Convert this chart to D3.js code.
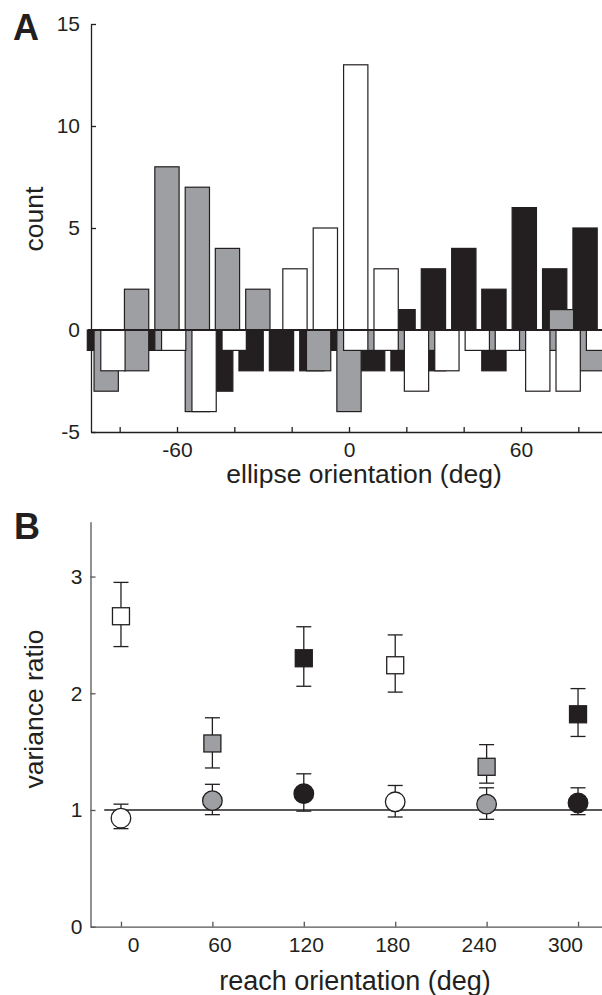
<!DOCTYPE html>
<html>
<head>
<meta charset="utf-8">
<script src="https://cdn.jsdelivr.net/npm/d3@7"></script>
<style>
  body { margin: 0; background: #fff; }
  svg { display: block; font-family: "Liberation Sans", Arial, sans-serif; }
</style>
</head>
<body>
<div id="chart"></div>
<script>
// Panel A: ellipse orientation histogram, 17 bins over 180 deg
const binCenters = [-84.7, -74.1, -63.5, -52.9, -42.4, -31.8, -21.2, -10.6, 0, 10.6, 21.2, 31.8, 42.4, 52.9, 63.5, 74.1, 84.7];
const blackUp   = [0, 0, 0, 0, 0, 0, 0, 0, 0, 0, 1, 3, 4, 2, 6, 3, 5];
const grayUp    = [0, 2, 8, 7, 4, 2, 0, 0, 0, 0, 0, 0, 0, 0, 0, 1, 0];
const whiteUp   = [0, 0, 0, 0, 0, 0, 3, 5, 13, 3, 0, 0, 0, 0, 0, 0, 0];
const blackDown = [-1, 0, -1, 0, -3, -2, -2, -2, -1, -2, -2, -2, 0, -2, 0, 0, 0];
const grayDown  = [-3, -2, -1, -4, 0, 0, 0, -2, -4, -1, -1, -1, 0, -1, -1, -1, -2];
const whiteDown = [-2, 0, -1, -4, -1, 0, 0, 0, -1, -1, -3, -2, -1, -1, -3, -3, -1];
const countTicks = [-5, 0, 5, 10, 15];
const orientTicks = [-80, -60, -40, -20, 0, 20, 40, 60, 80];
const orientLabels = [-60, 0, 60];

// Panel B: variance ratio per reach orientation
const reachOrient = [0, 60, 120, 180, 240, 300];
const reachColor  = ['white', 'gray', 'black', 'white', 'gray', 'black'];
const squareMean  = [2.66, 1.57, 2.30, 2.24, 1.37, 1.82];
const squareHi    = [2.95, 1.79, 2.57, 2.50, 1.56, 2.04];
const squareLo    = [2.40, 1.36, 2.06, 2.01, 1.23, 1.63];
const circleMean  = [0.93, 1.08, 1.14, 1.07, 1.05, 1.06];
const circleHi    = [1.05, 1.22, 1.31, 1.21, 1.19, 1.19];
const circleLo    = [0.84, 0.96, 0.99, 0.94, 0.92, 0.96];
const ratioTicks  = [0, 1, 2, 3];

const fills = { black: '#231f20', gray: '#9d9fa2', white: '#ffffff' };
const ink = '#231f20';

const svg = d3.select('#chart').append('svg')
  .attr('width', 602)
  .attr('height', 995);

// ---------- Panel A ----------
const binWidth = 10.59;
const barWidth = 0.8 * binWidth;
const offsets = { black: -2.35, gray: 0, white: 2.35 };

const xA = d3.scaleLinear().domain([-90, 90]).range([91, 607]);
const yA = d3.scaleLinear().domain([-5, 15]).range([432, 24]);

function barData(series, up, down) {
  const out = [];
  binCenters.forEach((c, i) => {
    if (up[i] !== 0) out.push({ series: series, c: c, v: up[i] });
    if (down[i] !== 0) out.push({ series: series, c: c, v: down[i] });
  });
  return out;
}

const allBars = barData('black', blackUp, blackDown)
  .concat(barData('gray', grayUp, grayDown))
  .concat(barData('white', whiteUp, whiteDown));

svg.append('g')
  .selectAll('rect')
  .data(allBars)
  .enter()
  .append('rect')
    .attr('x', d => xA(d.c + offsets[d.series] - barWidth / 2))
    .attr('width', d => xA(d.c + offsets[d.series] + barWidth / 2) - xA(d.c + offsets[d.series] - barWidth / 2))
    .attr('y', d => yA(Math.max(0, d.v)))
    .attr('height', d => Math.abs(yA(d.v) - yA(0)))
    .style('fill', d => fills[d.series])
    .style('stroke', ink)
    .style('stroke-width', 1.2);

// baseline
svg.append('line')
  .attr('x1', 88).attr('x2', 602)
  .attr('y1', yA(0)).attr('y2', yA(0))
  .style('stroke', ink)
  .style('stroke-width', 2);

const axisA_y = svg.append('g')
  .attr('transform', 'translate(91,0)')
  .call(d3.axisLeft(yA).tickValues(countTicks).tickFormat(d => String(d))
    .tickSize(-5).tickSizeOuter(0).tickPadding(11));

const axisA_x = svg.append('g')
  .attr('transform', 'translate(0,432)')
  .call(d3.axisBottom(xA).tickValues(orientTicks)
    .tickFormat(d => orientLabels.includes(d) ? String(d) : '')
    .tickSize(-5).tickSizeOuter(0).tickPadding(10));

// ---------- Panel B ----------
const xB = d3.scaleLinear().domain([-20, 320]).range([90.5, 608.5]);
const yB = d3.scaleLinear().domain([0, 3.47]).range([926.7, 521.7]);
// tick labels in the original sit on a slightly narrower spacing than the ticks
const xBLabel = d3.scaleLinear().domain([0, 300]).range([133, 565]);

svg.append('line')
  .attr('x1', xB(-11)).attr('x2', 602)
  .attr('y1', yB(1)).attr('y2', yB(1))
  .style('stroke', ink)
  .style('stroke-width', 1.3);

const points = [];
reachOrient.forEach((r, i) => {
  points.push({ r: r, color: reachColor[i], shape: 'square', m: squareMean[i], hi: squareHi[i], lo: squareLo[i] });
  points.push({ r: r, color: reachColor[i], shape: 'circle', m: circleMean[i], hi: circleHi[i], lo: circleLo[i] });
});

const errG = svg.append('g')
  .style('stroke', ink)
  .style('stroke-width', 1.3);
const capHalf = 7.5;

points.forEach(p => {
  const cx = xB(p.r);
  errG.append('line').attr('x1', cx).attr('x2', cx).attr('y1', yB(p.hi)).attr('y2', yB(p.lo));
  errG.append('line').attr('x1', cx - capHalf).attr('x2', cx + capHalf).attr('y1', yB(p.hi)).attr('y2', yB(p.hi));
  errG.append('line').attr('x1', cx - capHalf).attr('x2', cx + capHalf).attr('y1', yB(p.lo)).attr('y2', yB(p.lo));
});

const side = 17;
svg.append('g')
  .selectAll('rect')
  .data(points.filter(p => p.shape === 'square'))
  .enter()
  .append('rect')
    .attr('x', d => xB(d.r) - side / 2)
    .attr('y', d => yB(d.m) - side / 2)
    .attr('width', side)
    .attr('height', side)
    .style('fill', d => fills[d.color])
    .style('stroke', ink)
    .style('stroke-width', 1.3);

svg.append('g')
  .selectAll('circle')
  .data(points.filter(p => p.shape === 'circle'))
  .enter()
  .append('circle')
    .attr('cx', d => xB(d.r))
    .attr('cy', d => yB(d.m))
    .attr('r', 9.8)
    .style('fill', d => fills[d.color])
    .style('stroke', ink)
    .style('stroke-width', 1.3);

const axisB_y = svg.append('g')
  .attr('transform', 'translate(90.5,0)')
  .call(d3.axisLeft(yB).tickValues(ratioTicks).tickFormat(d => String(d))
    .tickSize(-5).tickSizeOuter(0).tickPadding(8));

const axisB_x = svg.append('g')
  .attr('transform', 'translate(0,926.7)')
  .call(d3.axisBottom(xB).tickValues(reachOrient).tickFormat(d => String(d))
    .tickSize(-5).tickSizeOuter(0).tickPadding(10));
axisB_x.selectAll('.tick text')
  .attr('x', d => xBLabel(d) - xB(d));

// axis styling
[axisA_x, axisA_y, axisB_x, axisB_y].forEach(ax => {
  ax.selectAll('path, line').style('stroke', ink).style('stroke-width', 1.3);
  ax.selectAll('text')
    .style('font-family', '"Liberation Sans", Arial, sans-serif')
    .style('font-size', '21px')
    .style('fill', ink);
});
[axisB_x, axisB_y].forEach(ax => {
  ax.selectAll('path, line').style('stroke', '#555');
});

// ---------- labels ----------
function label(text, x, y, size, opts) {
  opts = opts || {};
  const t = svg.append('text')
    .attr('x', x).attr('y', y)
    .attr('text-anchor', opts.anchor || 'middle')
    .style('font-size', size + 'px')
    .style('font-weight', opts.bold ? 'bold' : 'normal')
    .style('fill', ink)
    .text(text);
  if (opts.rotate) t.attr('transform', 'rotate(-90,' + x + ',' + y + ')');
  return t;
}

label('A', 13, 40, 36, { anchor: 'start', bold: true });
label('B', 14, 539, 36, { anchor: 'start', bold: true });
label('count', 43, 219, 26.5, { rotate: true });
label('ellipse orientation (deg)', 364, 483, 26.5);
label('variance ratio', 43, 709, 26.5, { rotate: true });
label('reach orientation (deg)', 355, 990, 27);
</script>
</body>
</html>
